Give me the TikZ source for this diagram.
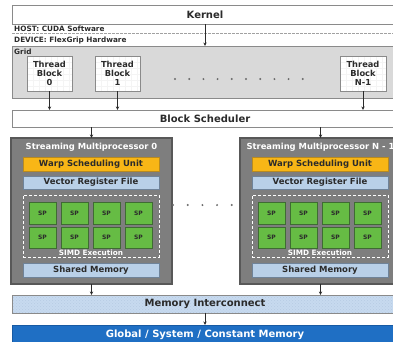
\documentclass[tikz,border=0pt]{standalone}
\usepackage{fontspec}
\setmainfont{DejaVu Sans}
\usetikzlibrary{arrows.meta,patterns}

\definecolor{txt}{HTML}{2B2B2B}
\definecolor{edge}{HTML}{8A8A8A}
\definecolor{gridfill}{HTML}{D9D9D9}
\definecolor{smfill}{HTML}{7E7E7E}
\definecolor{smedge}{HTML}{585858}
\definecolor{warp}{HTML}{F8B616}
\definecolor{warpedge}{HTML}{B88A20}
\definecolor{lightblue}{HTML}{B9D0E8}
\definecolor{lbedge}{HTML}{6F8399}
\definecolor{spfill}{HTML}{66BC44}
\definecolor{spedge}{HTML}{3F6B33}
\definecolor{icfill}{HTML}{C7DAEF}
\definecolor{icdot}{HTML}{B6CBE3}
\definecolor{globfill}{HTML}{1F6FC4}
\definecolor{globedge}{HTML}{175AA3}
\definecolor{dotc}{HTML}{6A6A6A}

\tikzset{
  base/.style={inner sep=0pt, outer sep=0pt, anchor=north west,
    font=\bfseries\fontsize{10}{12}\selectfont, text=txt},
  widebox/.style={base, draw=edge, line width=0.9pt, fill=white},
  small/.style={inner sep=0pt, anchor=west, text=txt,
    font=\bfseries\fontsize{7.3}{8}\selectfont},
  tblock/.style={base, draw=edge, line width=0.8pt, fill=white,
    minimum width=45pt, minimum height=35pt, align=center,
    font=\bfseries\fontsize{8.3}{9.3}\selectfont,
    path picture={\draw[gray!9, line width=0.3pt, step=6pt]
      (path picture bounding box.south west) grid
      (path picture bounding box.north east);}},
  smbox/.style={base, draw=smedge, line width=1.3pt, fill=smfill,
    minimum width=161pt, minimum height=146pt},
  inner/.style={base, line width=0.7pt, minimum width=136pt,
    font=\bfseries\fontsize{8.5}{10}\selectfont},
  spcell/.style={base, draw=spedge, line width=0.6pt, fill=spfill,
    minimum width=27pt, minimum height=22pt,
    font=\bfseries\fontsize{6}{7}\selectfont},
  arr/.style={-{Stealth[length=3.5pt,width=3.2pt]}, line width=0.8pt, draw=txt}
}

\begin{document}
\begin{tikzpicture}[x=1pt,y=-1pt]
\useasboundingbox (0,0) rectangle (393,341);
\fill[white] (0,0) rectangle (393,341);
\clip (0,0) rectangle (393,341);

% kernel and host/device split
\node[widebox, minimum width=386pt, minimum height=19pt] (kernel) at (12,5) {Kernel};
\coordinate (splitL) at (12,33);
\coordinate (splitR) at (398,33);
\draw[edge!80, line width=0.6pt, dash pattern=on 2.5pt off 1.5pt] (splitL) -- (splitR);
\node[small] (host) at (14,29) {HOST: CUDA Software};
\node[small] (device) at (14,40.5) {DEVICE: FlexGrip Hardware};

% grid of thread blocks
\node[base, draw=edge, line width=0.9pt, fill=gridfill,
  minimum width=386pt, minimum height=52pt] (grid) at (12,46) {};
\node[small] (gridlbl) at (14,52) {Grid};
\node[tblock] (tb0) at (27,56) {Thread\\Block\\0};
\node[tblock] (tb1) at (95,56) {Thread\\Block\\1};
\node[tblock, minimum width=46pt] (tbn) at (340,56) {Thread\\Block\\N-1};
\foreach \k in {0,...,9}
  \fill[dotc] (175+14.2*\k,79) circle (1.1pt);

\draw[arr] (kernel.south) -- (grid.north);

% block scheduler
\node[widebox, minimum width=386pt, minimum height=17pt] (sched) at (12,110) {Block Scheduler};
\draw[arr] (tb0.south) -- (tb0.south |- sched.north);
\draw[arr] (tb1.south) -- (tb1.south |- sched.north);
\draw[arr] (tbn.south) -- (tbn.south |- sched.north);

% streaming multiprocessors
\foreach \i/\dx/\name in {0/0/{Streaming Multiprocessor 0}, 1/229/{Streaming Multiprocessor N - 1}} {
  \begin{scope}[xshift=\dx pt]
    \node[smbox] (sm\i) at (11,138) {};
    \node[base, anchor=center, text=white,
      font=\bfseries\fontsize{8.4}{10}\selectfont] (smt\i) at (91.5,147) {\name};
    \node[inner, draw=warpedge, fill=warp, minimum height=14pt] (warp\i) at (23,157) {Warp Scheduling Unit};
    \node[inner, draw=lbedge, fill=lightblue, minimum height=13pt] (vrf\i) at (23,176) {Vector Register File};
    \node[base, draw=white, line width=0.9pt, dash pattern=on 3pt off 2pt,
      minimum width=136pt, minimum height=62pt] (simd\i) at (23,195) {};
    \foreach \c in {0,...,3} {
      \node[spcell] (spa\i\c) at (29+32*\c,202) {SP};
      \node[spcell, minimum height=21pt] (spb\i\c) at (29+32*\c,227) {SP};
    }
    \node[base, anchor=center, text=white,
      font=\bfseries\fontsize{7.3}{8}\selectfont] (simdl\i) at (91,252.5) {SIMD Execution};
    \node[inner, draw=lbedge, fill=lightblue, minimum height=14pt] (shm\i) at (23,263) {Shared Memory};
  \end{scope}
}
\foreach \k in {0,...,4}
  \fill[dotc] (173+14.7*\k,205) circle (1.1pt);

\draw[arr] (sm0.north |- sched.south) -- (sm0.north);
\draw[arr] (sm1.north |- sched.south) -- (sm1.north);

% memory system
\node[base, draw=edge, line width=0.9pt, fill=icfill,
  minimum width=386pt, minimum height=18pt] (mem) at (12,295) {};
\fill[pattern=crosshatch dots, pattern color=icdot]
  (mem.north west) rectangle (mem.south east);
\draw[edge, line width=0.9pt] (mem.north west) rectangle (mem.south east);
\node[base, anchor=center] (memlbl) at (mem.center) {Memory Interconnect};

\node[base, draw=globedge, line width=0.8pt, fill=globfill, text=white,
  minimum width=386pt, minimum height=20pt] (glob) at (12,325) {Global / System / Constant Memory};

\draw[arr] (sm0.south) -- (sm0.south |- mem.north);
\draw[arr] (sm1.south) -- (sm1.south |- mem.north);
\draw[arr] (mem.south) -- (glob.north);
\end{tikzpicture}
\end{document}
